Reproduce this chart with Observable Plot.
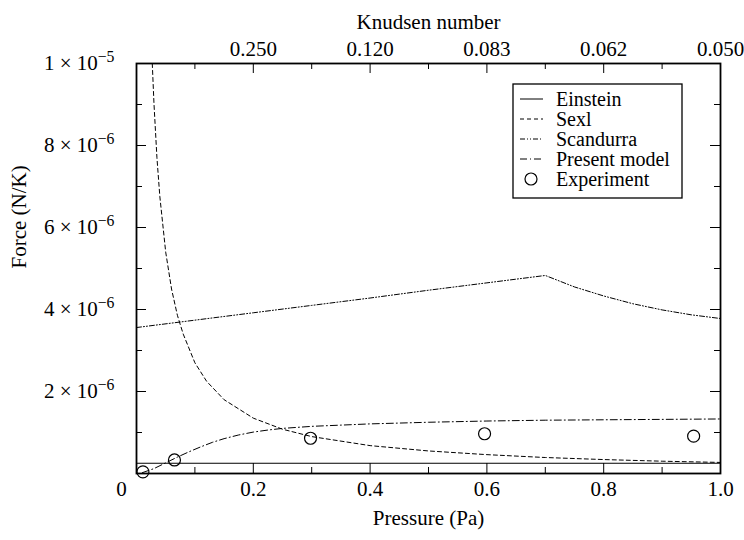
<!DOCTYPE html>
<html>
<head>
<meta charset="utf-8">
<script src="https://cdn.jsdelivr.net/npm/d3@7"></script>
<script src="https://cdn.jsdelivr.net/npm/@observablehq/plot@0.6"></script>
<style>
  body { margin: 0; background: #fff; }
  #chart { width: 744px; height: 540px; }
</style>
</head>
<body>
<div id="chart"></div>
<script>
// Thermophoretic force versus pressure; force values are in units of 10^-6 N/K.
const einsteinP = [0, 1];
const einsteinF = [0.25, 0.25];

const sexlP = [0.027, 0.03, 0.035, 0.04, 0.05, 0.06, 0.07, 0.08, 0.10, 0.12, 0.15, 0.20, 0.25, 0.30, 0.40, 0.50, 0.60, 0.70, 0.80, 0.90, 1.00];
const sexlF = [10.0, 9.0, 7.7, 6.75, 5.4, 4.5, 3.86, 3.4, 2.7, 2.25, 1.8, 1.35, 1.08, 0.9, 0.68, 0.55, 0.46, 0.39, 0.34, 0.30, 0.27];

const scandurraP = [0, 0.1, 0.2, 0.3, 0.4, 0.5, 0.6, 0.7, 0.75, 0.8, 0.85, 0.9, 0.95, 1.0];
const scandurraF = [3.56, 3.74, 3.92, 4.10, 4.28, 4.47, 4.65, 4.83, 4.55, 4.33, 4.14, 3.99, 3.87, 3.78];

const presentP = [0.01, 0.03, 0.05, 0.07, 0.09, 0.11, 0.13, 0.15, 0.175, 0.20, 0.225, 0.25, 0.30, 0.35, 0.40, 0.50, 0.60, 0.70, 0.80, 0.90, 1.00];
const presentF = [0.02, 0.12, 0.26, 0.40, 0.53, 0.65, 0.76, 0.85, 0.94, 1.01, 1.06, 1.10, 1.15, 1.18, 1.21, 1.25, 1.28, 1.30, 1.31, 1.32, 1.33];

const experimentP = [0.011, 0.065, 0.298, 0.596, 0.954];
const experimentF = [0.04, 0.33, 0.86, 0.97, 0.91];

// Axis ticks and their labels
const pressureTicks = [0.2, 0.4, 0.6, 0.8, 1.0];
const pressureLabels = ["0.2", "0.4", "0.6", "0.8", "1.0"];
const pressureMinor = [0.1, 0.3, 0.5, 0.7, 0.9];
const knudsenLabels = ["0.250", "0.120", "0.083", "0.062", "0.050"];
const forceTicks = [2, 4, 6, 8, 10];
const forceLabels = ["2 × 10^−6", "4 × 10^−6", "6 × 10^−6", "8 × 10^−6", "1 × 10^−5"];
const forceMinor = [1, 3, 5, 7, 9];

const seriesNames = ["Einstein", "Sexl", "Scandurra", "Present model", "Experiment"];
const seriesDash = ["none", "4,3", "5,2,1,2,1,2", "7,3,1,3", null];

const rows = (P, F) => P.map((p, i) => ({p, f: F[i]}));

const W = 744, H = 540;
const mL = 136, mR = 24, mT = 63, mB = 67;
const fw = W - mL - mR, fh = H - mT - mB;
const font = "'Liberation Serif', 'Times New Roman', serif";
const ink = "#000";
const major = 10, minor = 6;
const txt = {fontSize: 21, fontFamily: font, fill: ink};

const chart = Plot.plot({
  width: W, height: H,
  marginLeft: mL, marginRight: mR, marginTop: mT, marginBottom: mB,
  style: {fontFamily: font, fontSize: "21px", background: "#fff", color: ink},
  x: {domain: [0, 1], axis: null},
  y: {domain: [0, 10], axis: null},
  marks: [
    Plot.line(rows(einsteinP, einsteinF), {x: "p", y: "f", stroke: ink, strokeWidth: 1}),
    Plot.line(rows(sexlP, sexlF), {x: "p", y: "f", stroke: ink, strokeWidth: 1, strokeDasharray: seriesDash[1], clip: true}),
    Plot.line(rows(scandurraP, scandurraF), {x: "p", y: "f", stroke: ink, strokeWidth: 1, strokeDasharray: seriesDash[2]}),
    Plot.line(rows(presentP, presentF), {x: "p", y: "f", stroke: ink, strokeWidth: 1, strokeDasharray: seriesDash[3]}),
    Plot.dot(rows(experimentP, experimentF), {x: "p", y: "f", r: 6, stroke: ink, fill: "none", strokeWidth: 1.2}),

    // inward ticks on all four sides
    Plot.tickX(pressureTicks, {x: d => d, insetTop: fh - major, stroke: ink}),
    Plot.tickX(pressureMinor, {x: d => d, insetTop: fh - minor, stroke: ink}),
    Plot.tickX(pressureTicks, {x: d => d, insetBottom: fh - major, stroke: ink}),
    Plot.tickX(pressureMinor, {x: d => d, insetBottom: fh - minor, stroke: ink}),
    Plot.tickY(forceTicks, {y: d => d, insetRight: fw - major, stroke: ink}),
    Plot.tickY(forceMinor, {y: d => d, insetRight: fw - minor, stroke: ink}),
    Plot.tickY(forceTicks, {y: d => d, insetLeft: fw - major, stroke: ink}),
    Plot.tickY(forceMinor, {y: d => d, insetLeft: fw - minor, stroke: ink}),
    Plot.frame({stroke: ink, strokeWidth: 1.8}),

    // tick labels
    Plot.axisX(pressureTicks, {anchor: "bottom", tickSize: 0, tickPadding: 8, label: null,
      tickFormat: d => pressureLabels[pressureTicks.indexOf(d)], ...txt}),
    Plot.axisX([0], {anchor: "bottom", tickSize: 0, tickPadding: 8, label: null, dx: -15,
      tickFormat: () => "0", ...txt}),
    Plot.axisX(pressureTicks, {anchor: "top", tickSize: 0, tickPadding: 8, label: null,
      tickFormat: d => knudsenLabels[pressureTicks.indexOf(d)], ...txt}),
    Plot.axisY(forceTicks, {anchor: "left", tickSize: 0, tickPadding: 22, label: null,
      tickFormat: d => forceLabels[forceTicks.indexOf(d)], ...txt}),

    // axis titles
    Plot.text(["Pressure (Pa)"], {frameAnchor: "bottom", dy: 51, text: d => d, ...txt}),
    Plot.text(["Knudsen number"], {frameAnchor: "top", dy: -49, text: d => d, ...txt}),
    Plot.text(["Force (N/K)"], {frameAnchor: "left", dx: -117, rotate: -90, text: d => d, ...txt})
  ]
});

// render exponents ("10^−6") as raised superscripts
d3.select(chart).selectAll("text").each(function () {
  const t = this.textContent;
  if (!t.includes("^")) return;
  const [base, exp] = t.split("^");
  const sel = d3.select(this);
  sel.text(null);
  sel.append("tspan").text(base);
  sel.append("tspan").attr("dy", "-0.55em").attr("font-size", "0.75em").text(exp);
});

// legend box inside the plot area
const lg = d3.select(chart).append("g")
  .attr("font-family", font).attr("font-size", 20).attr("fill", ink)
  .attr("text-anchor", "start");
const lx = 513, ly = 84, lw = 169, lh = 114, step = 20;
lg.append("rect").attr("x", lx).attr("y", ly).attr("width", lw).attr("height", lh)
  .attr("fill", "#fff").attr("stroke", ink).attr("stroke-width", 1.3);
seriesNames.forEach((name, i) => {
  const y = ly + 15 + i * step;
  if (seriesDash[i] === null) {
    lg.append("circle").attr("cx", lx + 18).attr("cy", y).attr("r", 6)
      .attr("fill", "none").attr("stroke", ink).attr("stroke-width", 1.2);
  } else {
    lg.append("line").attr("x1", lx + 7).attr("x2", lx + 30).attr("y1", y).attr("y2", y)
      .attr("stroke", ink).attr("stroke-width", 1)
      .attr("stroke-dasharray", seriesDash[i] === "none" ? null : seriesDash[i]);
  }
  lg.append("text").attr("x", lx + 43).attr("y", y).attr("dy", "0.35em")
    .attr("text-anchor", "start").text(name);
});

document.getElementById("chart").appendChild(chart);
</script>
</body>
</html>
